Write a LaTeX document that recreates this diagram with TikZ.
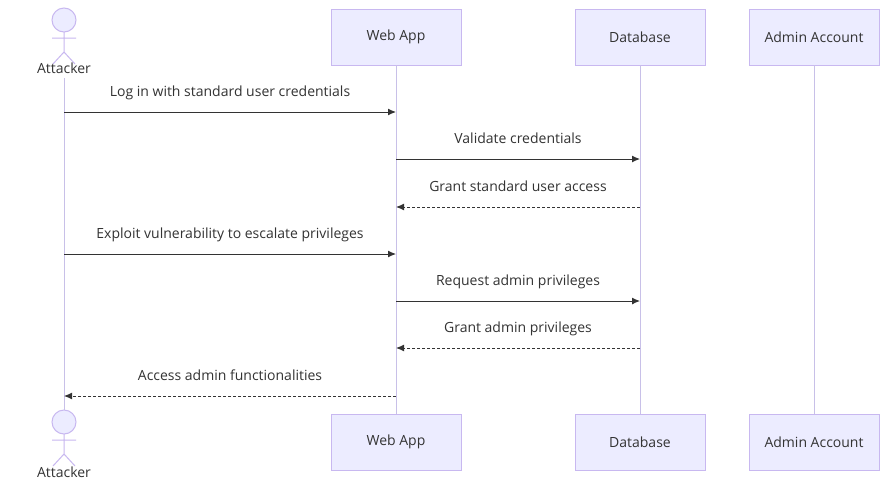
\documentclass[tikz,border=0pt]{standalone}
\usepackage{fontspec}
\setmainfont{Open Sans}
\usetikzlibrary{arrows.meta}
\definecolor{boxfill}{HTML}{ECECFF}
\definecolor{boxline}{HTML}{C8B8F0}
\definecolor{life}{HTML}{C8C0E8}
\definecolor{txt}{HTML}{333333}
\begin{document}
\begin{tikzpicture}[x=1pt,y=-1pt,
  actor/.style={draw=boxline,fill=boxfill,minimum width=130pt,minimum height=56pt,font=\fontsize{14}{16}\selectfont,text=txt,line width=0.8pt},
  lifeline/.style={draw=life,line width=1pt},
  msg/.style={draw=black!80,line width=1pt,-{Latex[length=8pt,width=7pt]}},
  rep/.style={msg,dash pattern=on 3pt off 2pt},
  lbl/.style={font=\fontsize{14}{16}\selectfont,text=txt,anchor=base}]
\useasboundingbox (0,0) rectangle (880,480);
\fill[white] (0,0) rectangle (880,480);
\draw[lifeline] (64,78) -- (64,410);
\node[actor] (w1) at (396,37) {Web App};
\node[actor] (w2) at (396,442) {Web App};
\node[actor] (d1) at (640,37) {Database};
\node[actor] (d2) at (640,442) {Database};
\node[actor] (m1) at (814,37) {Admin Account};
\node[actor] (m2) at (814,442) {Admin Account};
\draw[lifeline] (w1.south) -- (w2.north);
\draw[lifeline] (d1.south) -- (d2.north);
\draw[lifeline] (m1.south) -- (m2.north);
\foreach \y in {20,422}{
  \draw[boxline,fill=boxfill,line width=1pt] (64,\y) circle (12);
  \draw[boxline,line width=1pt] (64,\y+12) -- (64,\y+32) (52,\y+18) -- (76,\y+18) (64,\y+32) -- (53,\y+44) (64,\y+32) -- (75,\y+44);
}
\node[lbl] (at1) at (64,73) {Attacker};
\node[lbl] (at2) at (64,477) {Attacker};
\foreach \y/\xa/\xb/\s/\t in {
 112/64/396/msg/Log in with standard user credentials,
 159/396/640/msg/Validate credentials,
 207/640/396/rep/Grant standard user access,
 254/64/396/msg/Exploit vulnerability to escalate privileges,
 301/396/640/msg/Request admin privileges,
 348/640/396/rep/Grant admin privileges,
 396/396/64/rep/Access admin functionalities}{
  \coordinate (s) at (\xa,\y); \coordinate (e) at (\xb,\y);
  \draw[\s] (s) -- (e);
  \node[lbl] at ({(\xa+\xb)/2},\y-16) {\t};
}
\end{tikzpicture}
\end{document}
